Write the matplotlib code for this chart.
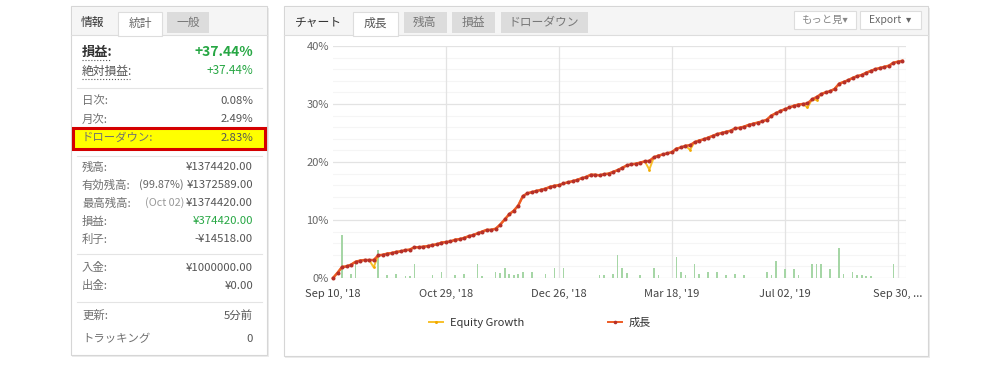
import matplotlib
matplotlib.use("Agg")
import matplotlib.pyplot as plt
from matplotlib.patches import Rectangle
from matplotlib.lines import Line2D

plt.rcParams['font.family'] = ['Noto Sans CJK JP', 'DejaVu Sans']

W, H = 1000, 365


def fx(x):
    return x / W


def fy(y):
    return 1 - y / H


# growth (%) per data point
growth = [0.0, 0.9, 1.9, 2.0, 2.3, 2.8, 3.0, 3.1, 3.1, 3.1,
          3.9, 4.0, 4.2, 4.3, 4.5, 4.6, 4.8, 4.9, 5.3, 5.3,
          5.4, 5.5, 5.7, 5.8, 6.1, 6.2, 6.3, 6.6, 6.7, 6.9,
          7.2, 7.4, 7.7, 8.0, 8.3, 8.3, 8.5, 9.2, 10.1, 11.0,
          11.6, 12.5, 14.1, 14.6, 14.8, 15.0, 15.2, 15.4, 15.7, 15.9,
          16.0, 16.3, 16.5, 16.7, 16.9, 17.2, 17.4, 17.8, 17.8, 17.7,
          17.9, 18.0, 18.3, 18.6, 19.0, 19.4, 19.6, 19.7, 19.9, 20.1,
          20.2, 20.8, 21.1, 21.3, 21.5, 21.7, 22.3, 22.5, 22.8, 22.9,
          23.4, 23.7, 23.9, 24.2, 24.5, 24.8, 25.0, 25.2, 25.4, 25.8,
          25.9, 26.1, 26.4, 26.6, 26.8, 27.0, 27.3, 28.0, 28.4, 28.8,
          29.1, 29.4, 29.7, 29.9, 30.0, 30.1, 30.8, 31.2, 31.7, 32.0,
          32.2, 32.6, 33.5, 33.8, 34.1, 34.5, 34.8, 35.0, 35.4, 35.7,
          36.0, 36.2, 36.4, 36.6, 37.1, 37.3, 37.44]

# points where equity growth drops below growth
equity_dip_idx = [9, 70, 79, 105, 107]
equity_dip_val = [1.85, 18.7, 22.1, 29.4, 30.7]

# small green volume bars along the bottom
bar_idx = [2, 4, 5, 10, 12, 14, 16, 17, 18, 22, 24, 27, 29, 32, 33, 36, 37, 38, 39, 40,
           41, 42, 44, 47, 49, 51, 59, 60, 62, 63, 64, 65, 68, 71, 72, 76, 77, 78, 80, 81,
           83, 85, 87, 89, 91, 96, 97, 98, 100, 102, 103, 106, 107, 108, 110, 112, 113, 115,
           116, 117, 118, 119, 124]
bar_val = [7.5, 0.7, 2.4, 4.9, 0.5, 0.7, 0.4, 0.4, 2.5, 0.6, 1.0, 0.6, 0.75, 2.5, 0.4, 1.1, 0.8, 1.7, 0.7, 0.6,
           0.7, 1.0, 1.0, 0.7, 1.7, 1.7, 0.6, 0.5, 0.75, 3.9, 1.7, 0.9, 0.5, 1.8, 0.5, 3.6, 1.1, 0.6, 2.4, 0.7,
           1.1, 1.0, 0.6, 0.7, 0.6, 1.0, 0.5, 2.9, 1.55, 1.55, 0.6, 2.4, 2.4, 2.4, 1.55, 5.2, 0.75, 1.1,
           0.5, 0.5, 0.4, 0.4, 2.4]

tick_idx = [0, 25, 50, 75, 100, 125]
tick_labels = ["Sep 10, '18", "Oct 29, '18", "Dec 26, '18", "Mar 18, '19", "Jul 02, '19", "Sep 30, ..."]
y_ticks = [0, 10, 20, 30, 40]

# left stats panel
stat_labels = ["日次:", "月次:", "ドローダウン:", "残高:", "有効残高:", "最高残高:", "損益:", "利子:",
               "入金:", "出金:", "更新:", "トラッキング"]
stat_values = ["0.08%", "2.49%", "2.83%", "¥1374420.00", "¥1372589.00", "¥1374420.00", "¥374420.00",
               "-¥14518.00", "¥1000000.00", "¥0.00", "5分前", "0"]
stat_notes = {"有効残高:": "(99.87%)", "最高残高:": "(Oct 02)"}
stat_y = [101, 119, 138, 167, 185, 203, 221, 239, 268, 286, 315, 339]

fig = plt.figure(figsize=(10, 3.65), dpi=100)
fig.patch.set_facecolor("white")


def box(x0, y0, x1, y1, fc, ec="none", lw=0.8, z=0):
    r = Rectangle((fx(x0), fy(y1)), fx(x1) - fx(x0), fy(y0) - fy(y1), transform=fig.transFigure,
                  facecolor=fc, edgecolor=ec, linewidth=lw, zorder=z)
    fig.patches.append(r)


def hline(x0, x1, y, color="#e4e4e4", lw=0.8, ls="-"):
    fig.lines.append(Line2D([fx(x0), fx(x1)], [fy(y), fy(y)], transform=fig.transFigure,
                            color=color, linewidth=lw, linestyle=ls, zorder=1))


# ---- left panel ----
box(72, 8, 269, 357, "#ececec")  # shadow
box(71, 6, 267, 355, "white", "#d6d6d6")
box(71.5, 6.5, 266.5, 35, "#f5f5f5")
box(118, 12, 162, 35.5, "white", "#dddddd")
box(167, 12, 209, 33, "#dcdcdc")
hline(71, 118, 35, "#dddddd")
hline(162, 267, 35, "#dddddd")
fig.text(fx(92), fy(22), "情報", fontsize=8.5, color="#333333", ha="center", va="center")
fig.text(fx(140), fy(23), "統計", fontsize=8.5, color="#666666", ha="center", va="center")
fig.text(fx(188), fy(22), "一般", fontsize=8.5, color="#777777", ha="center", va="center")

fig.text(fx(82), fy(52), "損益:", fontsize=9.5, fontweight="bold", color="#333333", va="center")
fig.text(fx(253), fy(52), "+37.44%", fontsize=10, fontweight="bold", color="#27a744", ha="right", va="center")
hline(82, 110, 60, "#555555", 0.8, ":")
fig.text(fx(82), fy(71), "絶対損益:", fontsize=8.5, color="#555555", va="center")
fig.text(fx(253), fy(71), "+37.44%", fontsize=8.5, color="#27a744", ha="right", va="center")
hline(82, 130, 79, "#555555", 0.8, ":")

for y in [88, 156, 254, 302]:
    hline(77, 262, y)

# highlighted drawdown row
box(73, 128, 265, 149, "#ffff00", "#d40000", 2.2)

for lab, val, y in zip(stat_labels, stat_values, stat_y):
    col = "#27a744" if val == "¥374420.00" else "#555555"
    fig.text(fx(82), fy(y), lab, fontsize=8.2, color="#707070", va="center")
    fig.text(fx(253), fy(y), val, fontsize=8.2, color=col, ha="right", va="center")
    if lab in stat_notes:
        fig.text(fx(184), fy(y), stat_notes[lab], fontsize=7.8,
                 color="#999999" if lab == "最高残高:" else "#666666", ha="right", va="center")

# ---- chart panel ----
box(285, 8, 930, 358, "#ececec")
box(284, 6, 928, 356, "white", "#d6d6d6")
box(284.5, 6.5, 927.5, 35, "#f5f5f5")
box(353, 12, 398, 35.5, "white", "#dddddd")
box(404, 12, 447, 33, "#dcdcdc")
box(452, 12, 495, 33, "#dcdcdc")
box(501, 12, 588, 33, "#dcdcdc")
hline(284, 353, 35, "#dddddd")
hline(398, 928, 35, "#dddddd")
fig.text(fx(318), fy(22), "チャート", fontsize=8.5, color="#333333", ha="center", va="center")
fig.text(fx(375), fy(23), "成長", fontsize=8.5, color="#555555", ha="center", va="center")
fig.text(fx(425), fy(22), "残高", fontsize=8.5, color="#777777", ha="center", va="center")
fig.text(fx(473), fy(22), "損益", fontsize=8.5, color="#777777", ha="center", va="center")
fig.text(fx(544), fy(22), "ドローダウン", fontsize=8.5, color="#777777", ha="center", va="center")
box(794, 11, 856, 29, "white", "#dddddd")
box(860, 11, 921, 29, "white", "#dddddd")
fig.text(fx(824), fy(20), "もっと見▾", fontsize=7.5, color="#888888", ha="center", va="center")
fig.text(fx(890), fy(20), "Export  ▾", fontsize=7.5, color="#666666", ha="center", va="center")

ax = fig.add_axes([fx(333), fy(278), fx(906) - fx(333), fy(46) - fy(278)])
ax.set_zorder(3)
ax.patch.set_alpha(0)
ax.set_xlim(0, 126.8)
ax.set_ylim(0, 40)
for s in ax.spines.values():
    s.set_visible(False)
for v in range(2, 40, 2):
    if v % 10:
        ax.axhline(v, color="#f5f5f5", linewidth=0.8, zorder=0)
for v in y_ticks:
    ax.axhline(v, color="#e3e3e3", linewidth=0.9, zorder=0)
for t in tick_idx[1:]:
    ax.axvline(t, color="#e3e3e3", linewidth=0.9, zorder=0)
ax.axvline(126.8, color="#eeeeee", linewidth=0.8, zorder=0)

ax.bar(bar_idx, bar_val, width=0.35, color="#a6d6a6", zorder=1)

x = list(range(len(growth)))
equity = list(growth)
for i, v in zip(equity_dip_idx, equity_dip_val):
    equity[i] = v
ax.plot(x, equity, color="#f7c02a", linewidth=1.4, marker="o", markersize=2.0,
        markerfacecolor="#f2a900", markeredgewidth=0, zorder=2, clip_on=False)
ax.plot(x, growth, color="#ee5b24", linewidth=1.8, marker="o", markersize=2.9,
        markerfacecolor="#b5302a", markeredgewidth=0, zorder=3, clip_on=False)

ax.set_yticks(y_ticks)
ax.set_yticklabels([f"{v}%" for v in y_ticks])
ax.set_xticks(tick_idx)
ax.set_xticklabels(tick_labels)
ax.tick_params(axis="y", length=0, pad=3, labelsize=8, labelcolor="#666666")
ax.tick_params(axis="x", length=0, pad=8, labelsize=8, labelcolor="#444444")

# legend
handles = [Line2D([], [], color="#f7c02a", linewidth=1.4, marker="o", markersize=2.2,
                  markerfacecolor="#f2a900", markeredgewidth=0),
           Line2D([], [], color="#ee5b24", linewidth=1.4, marker="o", markersize=2.6,
                  markerfacecolor="#b5302a", markeredgewidth=0)]
fig.legend(handles, ["Equity Growth", "成長"], loc="center", bbox_to_anchor=(fx(540), fy(323)),
           ncol=2, frameon=False, fontsize=8, handlelength=1.3, handletextpad=0.6,
           columnspacing=7.5, labelcolor="#333333")

fig.savefig("out.png", dpi=100, facecolor=fig.get_facecolor())
